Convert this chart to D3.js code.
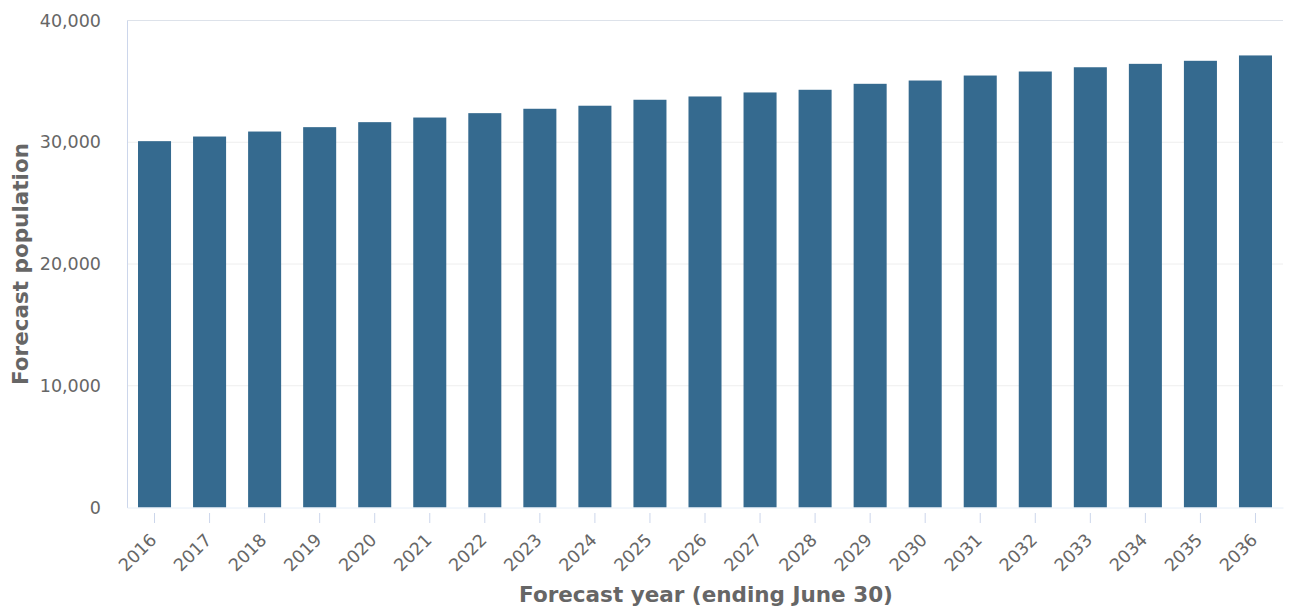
<!DOCTYPE html>
<html>
<head>
    <title>Forecast population</title>
    <script src="https://d3js.org/d3.v7.min.js"></script>
    <style>
        body { margin: 0; background: #fff; }
        text { font-family: "DejaVu Sans", sans-serif; }
    </style>
</head>
<body>
    <div id="container"></div>
    <script>
        const width = 1290;
        const height = 610;
        const margin = { top: 20.5, right: 7, bottom: 102.5, left: 127 };

        const years = ['2016', '2017', '2018', '2019', '2020', '2021', '2022', '2023', '2024', '2025', '2026',
            '2027', '2028', '2029', '2030', '2031', '2032', '2033', '2034', '2035', '2036'];
        const population = [30090, 30470, 30880, 31240, 31650, 32030, 32390, 32750, 33000, 33490, 33760,
            34090, 34310, 34800, 35070, 35480, 35810, 36160, 36440, 36690, 37130];
        const yTicks = [0, 10000, 20000, 30000, 40000];

        const svg = d3.select("#container").append("svg")
            .attr("width", width)
            .attr("height", height);

        const x = d3.scaleBand()
            .domain(years)
            .range([margin.left, width - margin.right])
            .paddingInner(0.4)
            .paddingOuter(0.2);

        const y = d3.scaleLinear()
            .domain([0, 40000])
            .range([height - margin.bottom, margin.top]);

        // gridlines
        svg.append("g")
            .selectAll("line")
            .data(yTicks.filter(d => d > 0))
            .join("line")
            .attr("x1", margin.left)
            .attr("x2", width - margin.right)
            .attr("y1", d => y(d))
            .attr("y2", d => y(d))
            .attr("stroke", d => d === 40000 ? "#dde2ea" : "#eeeeee")
            .attr("stroke-width", 1);

        // bars
        svg.append("g")
            .selectAll("rect")
            .data(population)
            .join("rect")
            .attr("x", (d, i) => x(years[i]))
            .attr("y", d => y(d))
            .attr("width", x.bandwidth())
            .attr("height", d => y(0) - y(d))
            .attr("fill", "#356a8f");

        // y axis
        const yAxis = svg.append("g")
            .attr("transform", `translate(${margin.left},0)`)
            .call(d3.axisLeft(y).tickValues(yTicks).tickSize(0).tickPadding(26)
                .tickFormat(d3.format(",")));
        yAxis.select(".domain").attr("stroke", "#ccd6eb");
        yAxis.selectAll("text")
            .attr("fill", "#666")
            .attr("font-size", 17.5)
            .attr("font-family", "DejaVu Sans, sans-serif");

        // x axis
        const xAxis = svg.append("g")
            .attr("transform", `translate(0,${y(0)})`)
            .call(d3.axisBottom(x).tickSizeInner(0).tickSizeOuter(0));
        xAxis.select(".domain").attr("stroke", "#e6eef8");
        xAxis.selectAll(".tick line")
            .attr("y1", 5.5)
            .attr("y2", 15.5)
            .attr("stroke", "#ccd6eb");
        xAxis.selectAll(".tick text")
            .attr("fill", "#666")
            .attr("font-size", 17.5)
            .attr("font-family", "DejaVu Sans, sans-serif")
            .attr("text-anchor", "end")
            .attr("x", 0)
            .attr("y", 0)
            .attr("dy", null)
            .attr("transform", "translate(3,33.5) rotate(-45)");

        // axis titles
        svg.append("text")
            .attr("transform", `translate(28,${(y(0) + y(40000)) / 2}) rotate(-90)`)
            .attr("text-anchor", "middle")
            .attr("fill", "#666")
            .attr("font-size", 21.5)
            .attr("font-weight", "bold")
            .text("Forecast population");

        svg.append("text")
            .attr("x", 706)
            .attr("y", 601.5)
            .attr("text-anchor", "middle")
            .attr("fill", "#666")
            .attr("font-size", 21.5)
            .attr("font-weight", "bold")
            .text("Forecast year (ending June 30)");
    </script>
</body>
</html>
